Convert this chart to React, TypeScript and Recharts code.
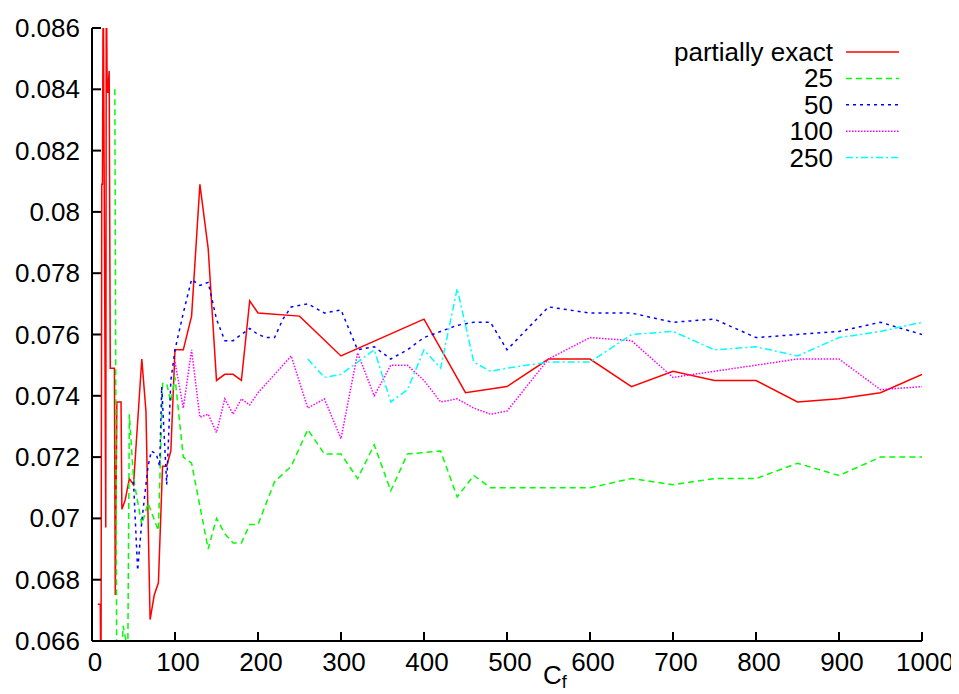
import { LineChart, Line, XAxis, YAxis } from 'recharts';

const FONT = '"Liberation Sans", Arial, Helvetica, sans-serif';

const xTicks = [0, 100, 200, 300, 400, 500, 600, 700, 800, 900, 1000];
const yTicks = [0.066, 0.068, 0.07, 0.072, 0.074, 0.076, 0.078, 0.08, 0.082, 0.084, 0.086];

// partially exact
const exactX = [7, 10, 10.8, 11.8, 12.6, 13.5, 16.6, 17.2, 18.3, 19, 20.7, 22, 27, 28, 30, 35, 36, 40, 45, 50,
  60, 65, 70, 75, 80, 85, 90, 95, 100, 110, 120, 130, 140, 150, 160, 170, 180, 190, 200, 250,
  300, 400, 450, 500, 550, 600, 650, 700, 750, 800, 850, 900, 950, 1000];
const exactY = [0.0672, 0.0672, 0.064, 0.0809, 0.0809, 0.088, 0.0697, 0.088, 0.0839, 0.0839, 0.0846, 0.0749, 0.0749, 0.0675, 0.0738, 0.0738, 0.0703, 0.0706, 0.0713, 0.0711,
  0.0752, 0.0735, 0.0667, 0.0675, 0.0679, 0.0717, 0.0717, 0.0722, 0.0755, 0.0755, 0.0766, 0.0809, 0.0788, 0.0745, 0.0747, 0.0747, 0.0745, 0.0771, 0.0767, 0.0766,
  0.0753, 0.0765, 0.0741, 0.0743, 0.0752, 0.0752, 0.0743, 0.0748, 0.0745, 0.0745, 0.0738, 0.0739, 0.0741, 0.0747];

// 25
const s25X = [27.5, 30, 35, 37.5, 41, 43, 45, 50, 60, 67.5, 80, 85, 90, 95, 100, 110, 120, 140, 150, 160,
  170, 180, 190, 200, 220, 240, 260, 280, 300, 320, 340, 360, 380, 420, 440, 460, 480, 500, 550, 600,
  650, 700, 750, 800, 850, 900, 950, 1000];
const s25Y = [0.084, 0.063, 0.065, 0.0665, 0.066, 0.065, 0.0734, 0.0713, 0.0698, 0.0705, 0.0696, 0.0744, 0.0744, 0.0738, 0.0746, 0.072, 0.0718, 0.069, 0.07, 0.0695,
  0.0692, 0.0692, 0.0698, 0.0698, 0.0712, 0.0717, 0.0729, 0.0721, 0.0721, 0.0713, 0.0724, 0.0709, 0.0721, 0.0722, 0.0707, 0.0714, 0.071, 0.071, 0.071, 0.071,
  0.0713, 0.0711, 0.0713, 0.0713, 0.0718, 0.0714, 0.072, 0.072];

// 50
const s50X = [50, 55, 60, 67.5, 71.5, 77.5, 81.5, 84, 90, 95, 100, 110, 120, 130, 140, 150, 160, 170, 180, 190,
  200, 210, 220, 230, 240, 260, 280, 300, 320, 340, 360, 380, 400, 420, 440, 460, 480, 500, 550, 600,
  650, 700, 750, 800, 850, 900, 950, 1000];
const s50Y = [0.0712, 0.0683, 0.0699, 0.0717, 0.0722, 0.0721, 0.0717, 0.0743, 0.0711, 0.0745, 0.0755, 0.0767, 0.0778, 0.0776, 0.0777, 0.0765, 0.0758, 0.0758, 0.076, 0.0762,
  0.076, 0.0759, 0.0759, 0.0765, 0.0769, 0.077, 0.0767, 0.0768, 0.0755, 0.0756, 0.0752, 0.0755, 0.0759, 0.0761, 0.0763, 0.0764, 0.0764, 0.0755, 0.0769, 0.0767,
  0.0767, 0.0764, 0.0765, 0.0759, 0.076, 0.0761, 0.0764, 0.076];

// 100
const s100X = [100, 110, 120, 130, 140, 150, 160, 170, 180, 190, 200, 240, 260, 280, 300, 320, 340, 360, 380, 400,
  420, 440, 460, 480, 500, 550, 600, 650, 700, 750, 800, 850, 900, 950, 1000];
const s100Y = [0.0751, 0.0736, 0.0755, 0.0733, 0.0734, 0.0728, 0.0739, 0.0734, 0.0739, 0.0737, 0.0741, 0.0753, 0.0736, 0.0739, 0.0726, 0.0754, 0.074, 0.075, 0.075, 0.0745,
  0.0738, 0.0739, 0.0736, 0.0734, 0.0735, 0.0752, 0.0759, 0.0758, 0.0746, 0.0748, 0.075, 0.0752, 0.0752, 0.0742, 0.0743];

// 250
const s250X = [260, 280, 300, 320, 340, 360, 380, 400, 420, 440, 460, 480, 500, 550, 600, 650, 700, 750, 800, 850,
  900, 950, 1000];
const s250Y = [0.0752, 0.0746, 0.0747, 0.0751, 0.0755, 0.0738, 0.0742, 0.0755, 0.0749, 0.0775, 0.0751, 0.0748, 0.0749, 0.0751, 0.0751, 0.076, 0.0761, 0.0755, 0.0756, 0.0753,
  0.0759, 0.0761, 0.0764];

const toPoints = (xs: number[], ys: number[]) => xs.map((x, i) => ({ x, y: ys[i] }));

const series = [
  { name: 'partially exact', color: '#ff0000', dash: undefined as string | undefined, data: toPoints(exactX, exactY) },
  { name: '25', color: '#00ff00', dash: '6 4', data: toPoints(s25X, s25Y) },
  { name: '50', color: '#0000ff', dash: '3 4', data: toPoints(s50X, s50Y) },
  { name: '100', color: '#ff00ff', dash: '1.5 1.5', data: toPoints(s100X, s100Y) },
  { name: '250', color: '#00ffff', dash: '7 3 2 3', data: toPoints(s250X, s250Y) },
];

const fmtY = (v: number) => String(Number(v.toFixed(3)));

function XTick({ x, y, payload }: any) {
  return (
    <text x={x + 3} y={y + 30} textAnchor="middle" fontSize={26} fontFamily={FONT} fill="#000">
      {payload.value}
    </text>
  );
}

function YTick({ x, y, payload }: any) {
  return (
    <text x={x - 12} y={y + 9} textAnchor="end" fontSize={26} fontFamily={FONT} fill="#000">
      {fmtY(payload.value)}
    </text>
  );
}

const NoTick = () => <g />;

const axisLine = { stroke: '#000', strokeWidth: 2 };

export default function App() {
  return (
    <div style={{ position: 'relative', width: 951, height: 686 }}>
      <LineChart width={951} height={686} margin={{ top: 20, right: 37, left: 4, bottom: 23 }}>
        <XAxis
          dataKey="x"
          type="number"
          domain={[0, 1000]}
          ticks={xTicks}
          allowDataOverflow
          height={30}
          tickSize={-9}
          tickMargin={9}
          axisLine={axisLine}
          tickLine={axisLine}
          tick={<XTick />}
        />
        <XAxis
          xAxisId="top"
          orientation="top"
          type="number"
          domain={[0, 1000]}
          ticks={xTicks}
          height={0}
          tickSize={-9}
          axisLine={axisLine}
          tickLine={axisLine}
          tick={<NoTick />}
        />
        <YAxis
          type="number"
          domain={[0.066, 0.086]}
          ticks={yTicks}
          allowDataOverflow
          width={80}
          tickSize={-9}
          tickMargin={9}
          axisLine={axisLine}
          tickLine={axisLine}
          tick={<YTick />}
        />
        <YAxis
          yAxisId="right"
          orientation="right"
          type="number"
          domain={[0.066, 0.086]}
          ticks={yTicks}
          width={0}
          tickSize={-9}
          axisLine={axisLine}
          tickLine={axisLine}
          tick={<NoTick />}
        />
        {series.map((s) => (
          <Line
            key={s.name}
            data={s.data}
            dataKey="y"
            name={s.name}
            type="linear"
            stroke={s.color}
            strokeWidth={1.5}
            strokeDasharray={s.dash}
            dot={false}
            activeDot={false}
            isAnimationActive={false}
          />
        ))}
      </LineChart>
      <svg
        width={951}
        height={686}
        style={{ position: 'absolute', left: 0, top: 0, pointerEvents: 'none' }}
      >
        {series.map((s, i) => (
          <g key={s.name}>
            <text
              x={825}
              y={44 + i * 26.4 + 9}
              textAnchor="end"
              fontSize={26}
              fontFamily={FONT}
              fill="#000"
            >
              {s.name}
            </text>
            <line
              x1={838}
              x2={891}
              y1={44 + i * 26.4}
              y2={44 + i * 26.4}
              stroke={s.color}
              strokeWidth={1.5}
              strokeDasharray={s.dash}
            />
          </g>
        ))}
        <text x={535} y={676} fontSize={26} fontFamily={FONT} fill="#000">
          C
          <tspan fontSize={18} dy={4}>f</tspan>
        </text>
      </svg>
    </div>
  );
}
